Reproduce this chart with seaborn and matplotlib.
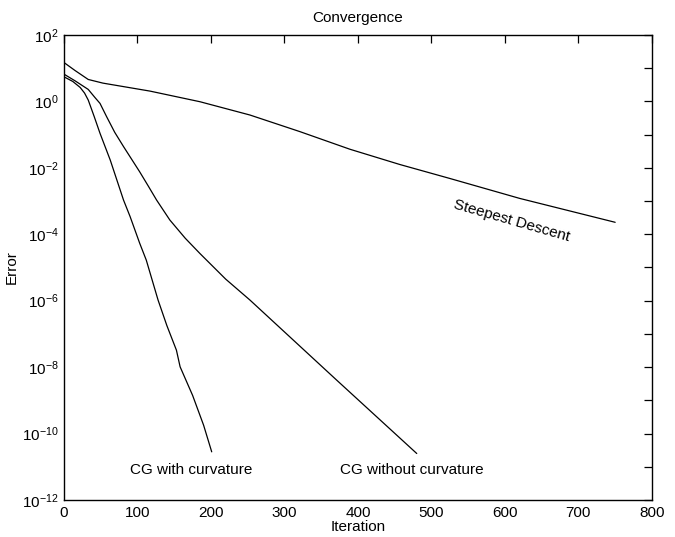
import numpy as np
import pandas as pd
import matplotlib
matplotlib.use("Agg")
import matplotlib.pyplot as plt
import seaborn as sns

# ---- data (iteration, log10 error) ----
sd_iter = [0, 15, 33, 53, 117, 185, 253, 321, 389, 457, 525, 620, 750]
sd_log = [1.17, 0.93, 0.66, 0.55, 0.31, -0.01, -0.41, -0.91, -1.44, -1.90, -2.32, -2.92, -3.64]

cgn_iter = [0, 15, 33, 42, 49, 58, 69, 81, 92, 103, 115, 126, 144, 165, 185, 220, 253, 370, 480]
cgn_log = [0.82, 0.62, 0.36, 0.12, -0.06, -0.46, -0.93, -1.36, -1.74, -2.12, -2.56, -2.97, -3.57, -4.12, -4.58, -5.35, -5.98, -8.37, -10.6]

cgc_iter = [0, 12, 22, 28, 33, 41, 49, 63, 81, 90, 103, 112, 128, 140, 153, 158, 175, 190, 201]
cgc_log = [0.74, 0.60, 0.42, 0.25, 0.04, -0.45, -0.96, -1.77, -2.97, -3.47, -4.27, -4.78, -5.98, -6.75, -7.49, -7.99, -8.85, -9.75, -10.55]

series_names = ["Steepest Descent", "CG without curvature", "CG with curvature"]

xticks = [0, 100, 200, 300, 400, 500, 600, 700, 800]
ytick_exps = list(range(-12, 3))
ytick_labels = [r"$\mathdefault{10^{%d}}$" % k if k % 2 == 0 else "" for k in ytick_exps]

# ---- build table ----
frames = []
for name, xs, ls in zip(series_names, [sd_iter, cgn_iter, cgc_iter], [sd_log, cgn_log, cgc_log]):
    frames.append(pd.DataFrame({"Iteration": xs, "Error": 10.0 ** np.array(ls), "method": name}))
df = pd.concat(frames, ignore_index=True)

sns.set_theme(style="white")
plt.rcParams["font.family"] = ["Liberation Sans", "DejaVu Sans"]
plt.rcParams["mathtext.fontset"] = "custom"
plt.rcParams["mathtext.rm"] = "Liberation Sans"
plt.rcParams["mathtext.it"] = "Liberation Sans:italic"
for key in ["text.color", "axes.labelcolor", "xtick.color", "ytick.color", "axes.edgecolor"]:
    plt.rcParams[key] = "black"

fig = plt.figure(figsize=(6.75, 5.37), dpi=100)
ax = fig.add_axes([0.0948, 0.0689, 0.871, 0.866])

sns.lineplot(data=df, x="Iteration", y="Error", hue="method",
             palette=["black"] * 3, legend=False, ax=ax,
             linewidth=0.9, sort=False, estimator=None)

ax.set_yscale("log")
ax.set_xlim(0, 800)
ax.set_ylim(1e-12, 1e2)
ax.set_xticks(xticks)
ax.set_xticklabels([str(v) for v in xticks])
ax.set_yticks([10.0 ** k for k in ytick_exps])
ax.set_yticklabels(ytick_labels)
ax.yaxis.set_minor_locator(matplotlib.ticker.NullLocator())

ax.tick_params(direction="in", length=6, width=0.9, top=True, right=True,
               labelsize=11, colors="black", pad=4)
for s in ax.spines.values():
    s.set_color("black")
    s.set_linewidth(1.0)

ax.set_xlabel("Iteration", fontsize=11, labelpad=0, color="black")
ax.set_ylabel("Error", fontsize=11, labelpad=2, color="black")
ax.set_title("Convergence", fontsize=11, pad=9, color="black")

ax.text(173, 10 ** -11.1, "CG with curvature", ha="center", va="center", fontsize=11, color="black")
ax.text(473, 10 ** -11.1, "CG without curvature", ha="center", va="center", fontsize=11, color="black")
ax.text(609, 10 ** -3.6, "Steepest Descent", ha="center", va="center", fontsize=11,
        rotation=-16, color="black")

fig.savefig("out.png", dpi=100)
